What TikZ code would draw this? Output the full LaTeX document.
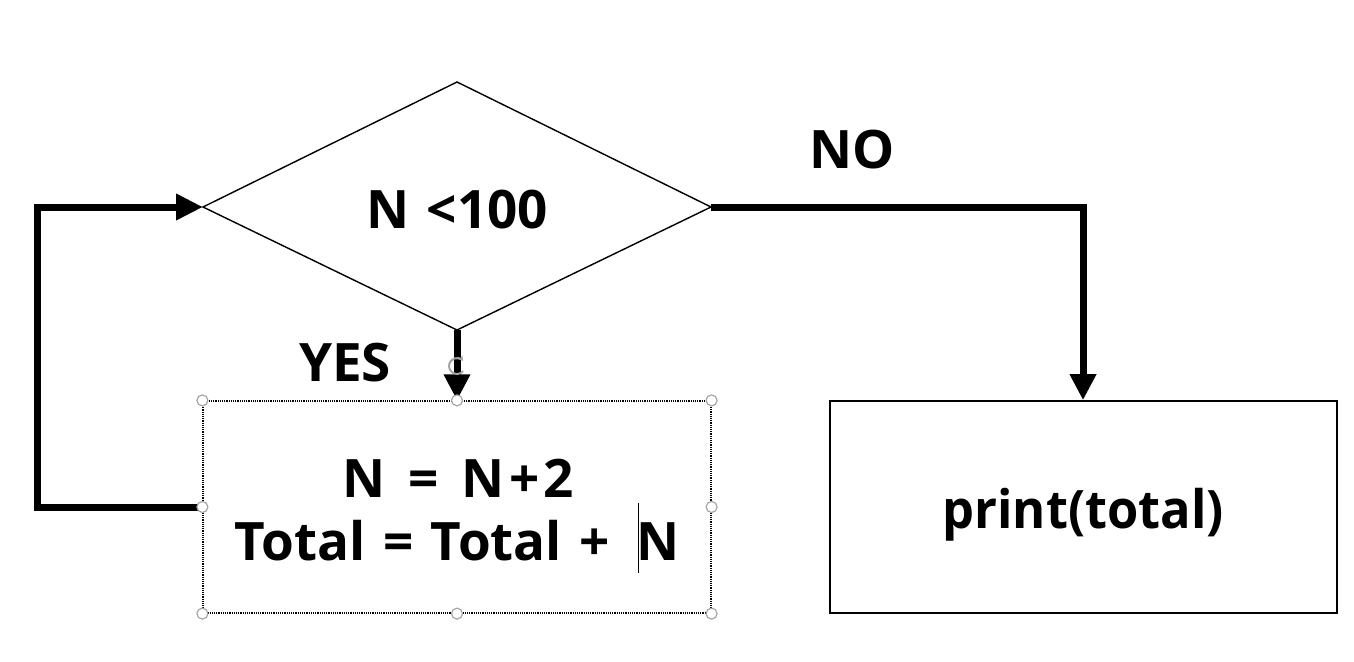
\documentclass[tikz,border=0pt]{standalone}
\usepackage{fontspec}
\setmainfont{Open Sans}
\usetikzlibrary{arrows.meta,shapes.geometric}
\tikzset{
  flow/.style={line width=7pt,-{Triangle[length=26pt,width=25pt]}},
  lbl/.style={font=\fontsize{53}{60}\selectfont\bfseries,inner sep=0pt,anchor=base},
  handle/.style={circle,draw=gray!70,fill=white,line width=1.2pt,minimum size=11pt,inner sep=0pt},
}
\begin{document}
\begin{tikzpicture}[x=1pt,y=-1pt]
\useasboundingbox (0,0) rectangle (1354,661);
\fill[white] (0,0) rectangle (1354,661);
% diamond
\coordinate (dT) at (457,82);
\coordinate (dL) at (203,207);
\coordinate (dR) at (711,207);
\coordinate (dB) at (457,330);
\draw[line width=1.4pt,line join=miter] (dT) -- (dR) -- (dB) -- (dL) -- cycle;
\node[lbl] (cond) at (457,228) {N\,\,<100};
% left box (selected)
\node[draw,densely dotted,line width=1.2pt,minimum width=508pt,minimum height=212pt,inner sep=0pt] (calc) at (457,507) {};
\node[lbl] (calc1) at (458,497) {N\hspace{5pt}\,\,=\,\,\hspace{5pt}N\hspace{5pt}+\hspace{4pt}2};
\node[lbl] (calc2) at (457,560) {Total\,\,=\,\,Total\,\,+\,\,\,N};
% right box
\node[draw,line width=1.6pt,minimum width=507pt,minimum height=212pt,inner sep=0pt] (out) at (1083.5,507) {};
\node[lbl] (outtxt) at (1083,528) {\scalebox{0.955}[1]{print(total)}};
% connectors
\draw[flow] (dB) -- (calc.north);
\draw[flow,-{Triangle[length=27pt,width=25pt]}] (calc.west) -- (37,507) -- (37,207) -- (dL);
\draw[flow] (dR) -- (1083,207) -- (out.north -| 1083,0);
% labels
\node[lbl] (no) at (852,168) {NO};
\node[lbl] (yes) at (345,381) {YES};
% selection handles
\foreach \p in {north west,north,north east,west,east,south west,south,south east}
  \node[handle] at (calc.\p) {};
% rotation icon
\draw[gray!70,line width=2pt,-{Stealth[length=5pt,width=6pt]}] (457,366) ++(40:8) arc[start angle=40,end angle=320,radius=8];
% text cursor
\coordinate (cur1) at (638,503);
\coordinate (cur2) at (638,573);
\draw[line width=1pt] (cur1) -- (cur2);
\end{tikzpicture}
\end{document}
